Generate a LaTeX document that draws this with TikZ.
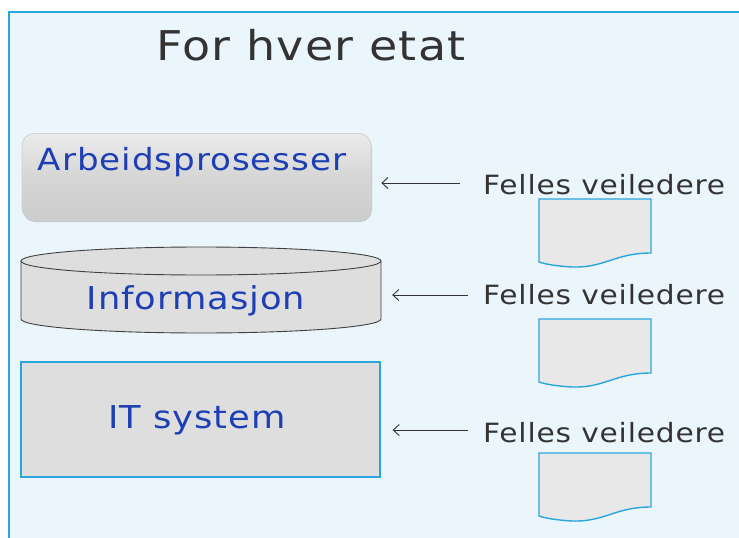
\documentclass[tikz,border=0pt]{standalone}
\usepackage{fontspec}
\setmainfont{DejaVu Sans}
\newfontfamily\widesans[FakeStretch=1.12, LetterSpace=3]{DejaVu Sans}
\usetikzlibrary{arrows.meta,shadows}
\definecolor{panel}{HTML}{EAF5FC}
\definecolor{panelline}{HTML}{2AA6DE}
\definecolor{labelblue}{HTML}{1E3FB4}
\definecolor{ink}{HTML}{333333}
\definecolor{docfill}{HTML}{E8E8E8}
\tikzset{
  lbl/.style={text=labelblue, font=\widesans\fontsize{31.5}{32}\selectfont, inner sep=0pt},
  felles/.style={text=ink, font=\widesans\fontsize{26.5}{27}\selectfont, inner sep=0pt, anchor=west},
  arr/.style={draw=ink, line width=0.9pt, -{Straight Barb[length=6pt,width=11pt,line width=0.9pt]}},
  guidedoc/.pic={
    \draw[draw=panelline, fill=docfill, line width=1.4pt]
      (0,0) -- (112,0) -- (112,-54)
      .. controls (76,-54) and (66,-69) .. (33,-68)
      .. controls (16,-67) and (6,-65) .. (0,-63) -- cycle;
  }
}
\begin{document}
\begin{tikzpicture}[x=1pt,y=1pt]
\useasboundingbox (0,0) rectangle (739,-538);
\begin{scope}
  \clip (0,0) rectangle (739,-538);
  \draw[draw=panelline, fill=panel, line width=1.4pt] (9,-12) rectangle (760,-560);
\end{scope}

% heading
\node[text=ink, font=\widesans\fontsize{41}{41}\selectfont, inner sep=0pt] (title) at (311,-45) {For hver etat};

% work processes: shaded, rounded box
\node[draw=white!82!black, line width=0.8pt, rounded corners=12pt,
      top color=white!92!black, bottom color=white!80!black, middle color=white!84!black,
      drop shadow={opacity=0.35, shadow xshift=1pt, shadow yshift=-2.5pt},
      minimum width=349pt, minimum height=86pt, inner sep=0pt] (ap) at (196.5,-176.5) {};
\node[lbl, font=\widesans\fontsize{30.5}{31}\selectfont] (aptext) at (192,-162) {Arbeidsprosesser};

% information: cylinder
\fill[white!87!black] (21,-261) -- (21,-319) arc[start angle=180, end angle=360, x radius=180pt, y radius=14pt] -- (381,-261) -- cycle;
\draw[draw=black!75, line width=0.9pt] (21,-261) -- (21,-319) arc[start angle=180, end angle=360, x radius=180pt, y radius=14pt] -- (381,-261);
\draw[draw=black!75, line width=0.9pt, fill=white!87!black] (201,-261) ellipse[x radius=180pt, y radius=14pt];
\node[minimum width=360pt, minimum height=86pt, inner sep=0pt] (info) at (201,-290) {};
\node[lbl] (infotext) at (196,-301) {Informasjon};

% IT system
\node[draw=panelline, fill=white!87!black, line width=1.2pt, minimum width=359pt, minimum height=115pt, inner sep=0pt] (it) at (200.5,-419.5) {};
\node[lbl] (ittext) at (197,-420) {IT system};

% shared guidance
\node[felles] (fv1) at (483,-185) {Felles veiledere};
\node[felles] (fv2) at (483,-295) {Felles veiledere};
\node[felles] (fv3) at (483,-433) {Felles veiledere};

\coordinate (s1) at (460,-183);
\coordinate (s2) at (468,-295);
\coordinate (s3) at (468,-430);
\draw[arr, shorten >=10pt] (s1) -- (s1 -| ap.east);
\draw[arr, shorten >=11pt] (s2) -- (s2 -| info.east);
\draw[arr, shorten >=12pt] (s3) -- (s3 -| it.east);

\pic at (539,-199) {guidedoc};
\pic at (539,-319) {guidedoc};
\pic at (539,-453) {guidedoc};
\end{tikzpicture}
\end{document}
